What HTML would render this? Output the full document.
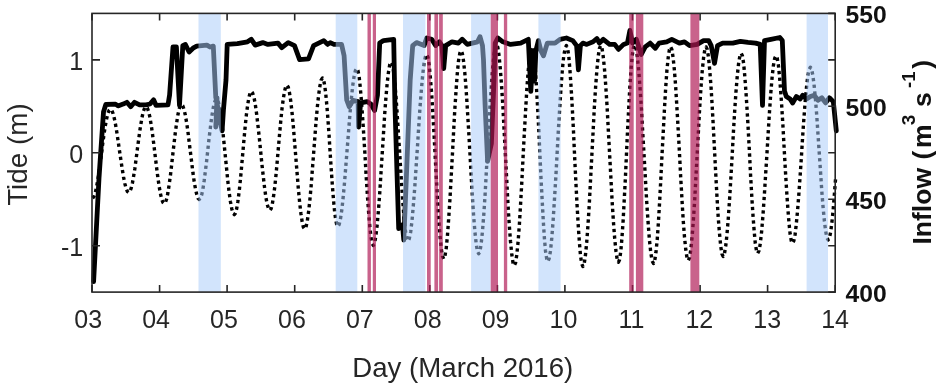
<!DOCTYPE html>
<html lang="en"><head><meta charset="utf-8"><title>Tide and Inflow, March 2016</title>
<style>html,body{margin:0;padding:0;background:#fff}body{width:945px;height:390px;overflow:hidden}svg{display:block}text{font-family:"Liberation Sans",Arial,Helvetica,sans-serif;fill:#262626}</style></head><body>
<svg width="945" height="390" viewBox="0 0 945 390">
<rect width="945" height="390" fill="#fff"/>
<defs><clipPath id="c"><rect x="91.0" y="13.4" width="746.2" height="278.7"/></clipPath></defs>
<polyline points="92.5,198.0 93.8,196.9 95.1,193.6 96.3,188.3 97.6,181.3 98.9,172.9 100.2,163.5 101.5,153.6 102.7,143.7 104.0,134.3 105.3,125.9 106.6,118.9 107.8,113.6 109.1,110.3 110.4,109.2 111.7,110.2 113.0,113.3 114.3,118.3 115.6,124.9 116.9,132.8 118.2,141.6 119.5,150.8 120.9,160.1 122.2,168.9 123.5,176.8 124.8,183.4 126.1,188.4 127.4,191.5 128.7,192.5 129.9,191.4 131.2,188.2 132.4,183.1 133.6,176.3 134.9,168.2 136.1,159.1 137.3,149.6 138.6,140.0 139.8,130.9 141.1,122.8 142.3,116.0 143.5,110.9 144.8,107.7 146.0,106.6 147.3,107.8 148.6,111.4 149.9,117.2 151.2,124.9 152.5,134.1 153.8,144.3 155.1,155.1 156.4,166.0 157.7,176.2 159.0,185.4 160.3,193.1 161.6,198.9 162.9,202.5 164.2,203.7 165.4,202.5 166.7,198.8 167.9,192.9 169.1,185.0 170.4,175.6 171.6,165.2 172.8,154.2 174.1,143.1 175.3,132.7 176.6,123.3 177.8,115.4 179.0,109.5 180.3,105.8 181.5,104.6 182.8,105.8 184.0,109.3 185.3,114.9 186.6,122.4 187.9,131.4 189.1,141.5 190.4,152.0 191.7,162.5 192.9,172.6 194.2,181.6 195.5,189.1 196.8,194.7 198.0,198.2 199.3,199.4 200.5,198.1 201.8,194.4 203.0,188.4 204.2,180.5 205.4,171.0 206.7,160.4 207.9,149.2 209.1,138.0 210.4,127.4 211.6,117.9 212.8,110.0 214.0,104.0 215.3,100.3 216.5,99.0 217.8,100.4 219.0,104.7 220.3,111.6 221.6,120.8 222.9,131.7 224.1,143.9 225.4,156.8 226.7,169.7 227.9,181.9 229.2,192.8 230.5,202.0 231.8,208.9 233.0,213.2 234.3,214.6 235.5,213.1 236.7,208.5 237.9,201.2 239.2,191.4 240.4,179.7 241.6,166.7 242.8,153.0 244.0,139.3 245.2,126.3 246.4,114.6 247.7,104.8 248.9,97.5 250.1,92.9 251.3,91.4 252.6,92.9 254.0,97.3 255.3,104.4 256.6,113.8 257.9,125.1 259.3,137.6 260.6,150.8 261.9,164.1 263.3,176.6 264.6,187.9 265.9,197.3 267.2,204.4 268.6,208.8 269.9,210.3 271.1,208.7 272.3,204.1 273.5,196.6 274.8,186.7 276.0,174.9 277.2,161.6 278.4,147.7 279.6,133.8 280.8,120.5 282.0,108.7 283.3,98.8 284.5,91.3 285.7,86.7 286.9,85.1 288.2,86.9 289.4,92.2 290.7,100.8 292.0,112.2 293.3,125.9 294.5,141.1 295.8,157.1 297.1,173.1 298.3,188.3 299.6,202.0 300.9,213.4 302.2,222.0 303.4,227.3 304.7,229.1 306.0,227.2 307.2,221.6 308.5,212.6 309.8,200.7 311.1,186.3 312.3,170.4 313.6,153.6 314.9,136.7 316.1,120.8 317.4,106.4 318.7,94.5 320.0,85.5 321.2,79.9 322.5,78.0 323.6,79.9 324.7,85.4 325.8,94.2 326.9,106.0 328.0,120.0 329.1,135.7 330.1,152.2 331.2,168.8 332.3,184.5 333.4,198.5 334.5,210.3 335.6,219.1 336.7,224.6 337.8,226.5 339.2,224.5 340.5,218.7 341.9,209.3 343.2,196.8 344.6,181.8 345.9,165.1 347.3,147.5 348.7,129.9 350.0,113.2 351.4,98.2 352.7,85.7 354.1,76.3 355.4,70.5 356.8,68.5 358.0,70.7 359.2,77.3 360.3,87.8 361.5,101.8 362.7,118.6 363.9,137.3 365.1,157.0 366.2,176.7 367.4,195.4 368.6,212.2 369.8,226.2 370.9,236.7 372.1,243.3 373.3,245.5 374.6,243.2 375.8,236.4 377.1,225.5 378.4,211.0 379.7,193.6 380.9,174.2 382.2,153.8 383.5,133.4 384.7,114.0 386.0,96.6 387.3,82.1 388.6,71.2 389.8,64.4 391.1,62.1 392.3,64.3 393.5,71.0 394.7,81.6 395.9,95.8 397.1,112.7 398.3,131.6 399.6,151.5 400.8,171.5 402.0,190.4 403.2,207.3 404.4,221.5 405.6,232.1 406.8,238.8 408.0,241.0 409.3,238.7 410.7,231.8 412.0,220.7 413.3,205.9 414.7,188.2 416.0,168.5 417.4,147.8 418.7,127.0 420.0,107.3 421.4,89.6 422.7,74.8 424.0,63.7 425.4,56.8 426.7,54.5 427.9,57.1 429.1,64.6 430.3,76.8 431.6,93.0 432.8,112.4 434.0,134.0 435.2,156.7 436.4,179.4 437.6,201.0 438.8,220.4 440.1,236.6 441.3,248.8 442.5,256.3 443.7,258.9 444.9,256.3 446.2,248.6 447.4,236.2 448.6,219.7 449.9,200.0 451.1,178.0 452.4,154.8 453.6,131.6 454.8,109.6 456.1,89.9 457.3,73.4 458.5,61.0 459.8,53.3 461.0,50.7 462.3,53.2 463.5,60.8 464.8,72.9 466.1,88.9 467.3,108.2 468.6,129.7 469.9,152.2 471.1,174.8 472.4,196.3 473.6,215.6 474.9,231.6 476.2,243.7 477.4,251.3 478.7,253.8 480.0,251.2 481.2,243.4 482.5,231.0 483.8,214.4 485.1,194.5 486.3,172.4 487.6,149.1 488.9,125.8 490.1,103.7 491.4,83.8 492.7,67.2 494.0,54.8 495.2,47.0 496.5,44.4 497.8,47.2 499.0,55.3 500.3,68.5 501.6,86.0 502.9,107.0 504.1,130.4 505.4,154.9 506.7,179.5 507.9,202.9 509.2,223.9 510.5,241.4 511.8,254.6 513.0,262.7 514.3,265.5 515.6,262.8 516.8,254.7 518.1,241.7 519.4,224.3 520.6,203.6 521.9,180.5 523.1,156.2 524.4,131.9 525.7,108.8 526.9,88.1 528.2,70.7 529.5,57.7 530.7,49.6 532.0,46.9 533.1,49.6 534.3,57.5 535.4,70.3 536.5,87.3 537.6,107.6 538.8,130.3 539.9,154.2 541.0,178.1 542.2,200.8 543.3,221.1 544.4,238.1 545.5,250.9 546.7,258.8 547.8,261.5 549.1,258.8 550.5,250.8 551.8,237.9 553.1,220.9 554.4,200.4 555.8,177.6 557.1,153.6 558.4,129.5 559.8,106.7 561.1,86.2 562.4,69.2 563.7,56.3 565.1,48.3 566.4,45.6 567.6,48.4 568.8,56.5 569.9,69.7 571.1,87.2 572.3,108.1 573.5,131.5 574.6,156.0 575.8,180.6 577.0,204.0 578.2,224.9 579.4,242.4 580.5,255.6 581.7,263.7 582.9,266.5 584.2,263.7 585.4,255.6 586.7,242.4 588.0,224.9 589.3,204.0 590.5,180.6 591.8,156.1 593.1,131.5 594.3,108.1 595.6,87.2 596.9,69.7 598.2,56.5 599.4,48.4 600.7,45.6 602.0,48.3 603.2,56.3 604.5,69.2 605.8,86.4 607.1,106.9 608.3,129.8 609.6,153.9 610.9,178.0 612.1,200.9 613.4,221.4 614.7,238.6 616.0,251.5 617.2,259.5 618.5,262.2 619.6,259.5 620.8,251.4 621.9,238.5 623.1,221.3 624.2,200.7 625.4,177.8 626.5,153.6 627.6,129.4 628.8,106.5 629.9,85.9 631.1,68.7 632.2,55.8 633.4,47.7 634.5,45.0 635.9,47.7 637.2,55.8 638.6,68.8 639.9,86.1 641.3,106.8 642.6,129.9 644.0,154.2 645.4,178.6 646.7,201.7 648.1,222.4 649.4,239.7 650.8,252.7 652.1,260.8 653.5,263.5 654.7,260.8 655.9,252.8 657.2,239.9 658.4,222.7 659.6,202.2 660.8,179.3 662.0,155.2 663.3,131.1 664.5,108.2 665.7,87.7 666.9,70.5 668.2,57.6 669.4,49.6 670.6,46.9 671.9,49.6 673.1,57.5 674.4,70.2 675.7,87.1 676.9,107.3 678.2,129.9 679.5,153.6 680.7,177.4 682.0,200.0 683.2,220.2 684.5,237.1 685.8,249.8 687.0,257.7 688.3,260.4 689.6,257.7 690.8,249.8 692.1,237.1 693.4,220.2 694.7,200.0 695.9,177.4 697.2,153.7 698.5,129.9 699.7,107.3 701.0,87.1 702.3,70.2 703.6,57.5 704.8,49.6 706.1,46.9 707.3,49.5 708.5,57.3 709.7,69.8 711.0,86.3 712.2,106.2 713.4,128.3 714.6,151.6 715.8,175.0 717.0,197.1 718.2,217.0 719.5,233.5 720.7,246.0 721.9,253.8 723.1,256.4 724.4,253.9 725.7,246.3 727.0,234.2 728.3,218.2 729.6,198.9 730.9,177.4 732.2,154.9 733.4,132.3 734.7,110.8 736.0,91.5 737.3,75.5 738.6,63.4 739.9,55.8 741.2,53.3 742.4,55.8 743.6,63.2 744.7,75.1 745.9,91.0 747.1,109.9 748.3,131.0 749.5,153.3 750.6,175.6 751.8,196.7 753.0,215.6 754.2,231.5 755.3,243.4 756.5,250.8 757.7,253.3 759.0,250.8 760.3,243.5 761.6,231.8 762.9,216.1 764.2,197.4 765.5,176.5 766.9,154.6 768.2,132.6 769.5,111.7 770.8,93.0 772.1,77.3 773.4,65.6 774.7,58.3 776.0,55.8 777.2,58.1 778.4,65.1 779.5,76.2 780.7,91.1 781.9,108.8 783.1,128.6 784.2,149.5 785.4,170.4 786.6,190.2 787.8,207.9 789.0,222.8 790.1,233.9 791.3,240.9 792.5,243.2 793.8,241.0 795.1,234.5 796.3,224.0 797.6,210.1 798.9,193.4 800.2,174.8 801.5,155.2 802.7,135.6 804.0,117.0 805.3,100.3 806.6,86.4 807.8,75.9 809.1,69.4 810.4,67.2 811.7,69.4 812.9,75.8 814.2,86.0 815.5,99.7 816.8,116.1 818.0,134.4 819.3,153.6 820.6,172.8 821.8,191.1 823.1,207.5 824.4,221.2 825.7,231.4 826.9,237.8 828.2,240.0 829.4,238.0 830.7,232.0 831.9,222.3 833.2,209.5 834.4,194.1 835.7,177.0" fill="none" stroke="#000" stroke-width="3.4" stroke-dasharray="3.3 3.4" stroke-linejoin="round"/>
<polyline points="93.6,281.5 99,178 103.5,112 105.8,104.5 115.5,104.1 118,105.9 123.1,104.1 126.9,102.3 130.7,106.7 134.5,102.3 139.6,104.9 146,104.9 150,104 153.6,99.8 156.1,105.4 168,104.9 169.6,95 173,46.9 176.4,46.9 179.5,105.4 182.8,45.6 185.3,44.4 189.1,52 193,48.2 196.7,46.1 206.9,45.1 210,47 213.3,46.1 215.8,97.8 217,97.8 215.8,127 217,103 219.6,118 222.1,130.8 223.4,110.5 226,80 227.2,44.4 237.4,43.6 247.5,41.8 251.3,39.3 255.2,45.1 262.8,42.6 267.9,44.4 278,43.1 281.8,47.7 288.2,42.6 294.5,45.6 299.6,59.6 308.5,58.8 313.6,45.6 318.7,43.1 323.8,40.6 327.6,44.4 330.2,42.6 334,44.4 341.6,44.4 344.1,55.8 346.7,100 349.2,106.7 353,100.3 358.1,101.6 358.6,127 360.6,102.9 367,101.6 370.8,104.1 374.6,110.5 377.5,95 379.7,43.1 383.5,40.6 393.7,39.3 394.9,104 398.7,228.6 402.5,224.8 403.8,240 406.3,179 410.2,80 412.7,45.6 416.5,42.6 424.1,45.6 426.7,38 431.7,39.3 435.6,45.6 439.4,41.8 441.9,45.6 443.7,68.5 445.7,45.6 452,41.8 458.4,43.1 462.2,39.3 467.3,44.4 472.4,43.1 477.5,41.8 480,36.7 482.5,45.6 483.5,60 485.1,105 487.6,161.3 491.4,143.5 494,80 495.2,43.1 497.8,38 502.9,41.8 510.5,44.4 520.6,43.1 528.3,39.3 530.8,91.4 533.3,50.7 534.6,81.2 535.9,50.7 538.4,40.6 540.9,50.7 543.5,55.8 547.3,43.1 555,43.1 560,39.3 566.4,38 572.8,40.6 576.6,45.6 578.4,69.8 580.4,45.6 582.9,43.1 586.7,44.4 593.1,41.8 596.9,38.5 599.4,43.1 603.3,39.3 609.6,44.4 614.7,44.4 618.5,49.4 623.6,44.4 627.4,43.1 629.9,30.4 632.5,43.1 636.3,39.3 641.3,54.5 645.2,46.9 650.2,43.1 655.3,48.2 659.1,43.1 666.7,41.8 671.8,39.3 679.4,43.1 684.5,41.8 689.6,45.6 697.2,44.4 703.6,40.6 708.7,40.6 711.2,45.6 714.5,63.4 717.5,45.6 722.6,43.1 732.8,43.1 740.4,41.3 748,42.3 755.6,43.1 760.2,44.4 762.5,105.4 764.5,40.6 770.9,39.3 779.8,37.5 782.3,40.6 784.5,91 786.3,96.5 790.1,99 792.6,102.9 796.4,96.5 800.2,99 802.8,95.2 806.6,99 810.4,96.5 814.2,95.2 818,100.3 821.8,97.8 825.6,102.9 829.4,97.8 833.3,101.6 836.3,130.8" fill="none" stroke="#000" stroke-width="4.8" stroke-linejoin="round" stroke-linecap="round"/>
<path d="M92.0 292.1v-7M92.0 13.4v7M159.6 292.1v-7M159.6 13.4v7M227.1 292.1v-7M227.1 13.4v7M294.7 292.1v-7M294.7 13.4v7M362.3 292.1v-7M362.3 13.4v7M429.8 292.1v-7M429.8 13.4v7M497.4 292.1v-7M497.4 13.4v7M564.9 292.1v-7M564.9 13.4v7M632.5 292.1v-7M632.5 13.4v7M700.1 292.1v-7M700.1 13.4v7M767.6 292.1v-7M767.6 13.4v7M835.2 292.1v-7M835.2 13.4v7M92.0 59.9h8M92.0 152.8h8M92.0 245.7h8M835.2 13.4h-7M835.2 59.9h-7M835.2 106.3h-7M835.2 152.8h-7M835.2 199.2h-7M835.2 245.7h-7M835.2 292.1h-7" stroke="#262626" stroke-width="1.6" fill="none"/>
<rect x="198.5" y="13.4" width="22.3" height="278.7" fill="rgba(168,204,250,0.52)"/>
<rect x="335.7" y="13.4" width="21.6" height="278.7" fill="rgba(168,204,250,0.52)"/>
<rect x="403.0" y="13.4" width="22.4" height="278.7" fill="rgba(168,204,250,0.52)"/>
<rect x="471.1" y="13.4" width="19.4" height="278.7" fill="rgba(168,204,250,0.52)"/>
<rect x="538.4" y="13.4" width="22.2" height="278.7" fill="rgba(168,204,250,0.52)"/>
<rect x="806.6" y="13.4" width="21.4" height="278.7" fill="rgba(168,204,250,0.52)"/>
<rect x="367.5" y="13.4" width="3.4" height="278.7" fill="rgba(176,24,84,0.68)"/>
<rect x="372.8" y="13.4" width="3.2" height="278.7" fill="rgba(176,24,84,0.68)"/>
<rect x="427.0" y="13.4" width="3.7" height="278.7" fill="rgba(176,24,84,0.68)"/>
<rect x="434.4" y="13.4" width="3.7" height="278.7" fill="rgba(176,24,84,0.68)"/>
<rect x="439.1" y="13.4" width="3.7" height="278.7" fill="rgba(176,24,84,0.68)"/>
<rect x="490.7" y="13.4" width="7.3" height="278.7" fill="rgba(176,24,84,0.68)"/>
<rect x="503.9" y="13.4" width="3.3" height="278.7" fill="rgba(176,24,84,0.68)"/>
<rect x="629.2" y="13.4" width="4.5" height="278.7" fill="rgba(176,24,84,0.68)"/>
<rect x="635.9" y="13.4" width="7.4" height="278.7" fill="rgba(176,24,84,0.68)"/>
<rect x="690.4" y="13.4" width="8.9" height="278.7" fill="rgba(176,24,84,0.68)"/>
<rect x="92.0" y="13.4" width="743.2" height="278.7" fill="none" stroke="#262626" stroke-width="1.6"/>
<text x="88.2" y="327.6" font-size="25" text-anchor="middle">03</text>
<text x="156.1" y="327.6" font-size="25" text-anchor="middle">04</text>
<text x="224.0" y="327.6" font-size="25" text-anchor="middle">05</text>
<text x="291.9" y="327.6" font-size="25" text-anchor="middle">06</text>
<text x="359.8" y="327.6" font-size="25" text-anchor="middle">07</text>
<text x="427.7" y="327.6" font-size="25" text-anchor="middle">08</text>
<text x="495.6" y="327.6" font-size="25" text-anchor="middle">09</text>
<text x="563.5" y="327.6" font-size="25" text-anchor="middle">10</text>
<text x="631.4" y="327.6" font-size="25" text-anchor="middle">11</text>
<text x="699.3" y="327.6" font-size="25" text-anchor="middle">12</text>
<text x="767.2" y="327.6" font-size="25" text-anchor="middle">13</text>
<text x="835.1" y="327.6" font-size="25" text-anchor="middle">14</text>
<text x="83.2" y="69.8" font-size="25" text-anchor="end">1</text>
<text x="83.2" y="162.7" font-size="25" text-anchor="end">0</text>
<text x="83.2" y="255.6" font-size="25" text-anchor="end">-1</text>
<text x="845.6" y="23.1" font-size="24.7" font-weight="bold" style="fill:#111">550</text>
<text x="845.6" y="116.0" font-size="24.7" font-weight="bold" style="fill:#111">500</text>
<text x="845.6" y="208.9" font-size="24.7" font-weight="bold" style="fill:#111">450</text>
<text x="845.6" y="301.8" font-size="24.7" font-weight="bold" style="fill:#111">400</text>
<text x="462.8" y="377.1" font-size="27.6" text-anchor="middle" textLength="221" lengthAdjust="spacingAndGlyphs">Day (March 2016)</text>
<text transform="translate(27.3 154.6) rotate(-90)" font-size="27.6" text-anchor="middle" textLength="102.5" lengthAdjust="spacingAndGlyphs">Tide (m)</text>
<text transform="translate(930.7 0) rotate(-90)" font-size="26.5" font-weight="bold" style="fill:#111"><tspan x="-244.5">Inflow</tspan><tspan x="-166.8"> (</tspan><tspan x="-148">m</tspan><tspan x="-125.2" font-size="19" dy="-15.5">3</tspan><tspan x="-107" dy="15.5">s</tspan><tspan x="-88" font-size="18.5" dy="-15.5">-1</tspan><tspan x="-68.7" dy="15.5">)</tspan></text>
</svg></body></html>
